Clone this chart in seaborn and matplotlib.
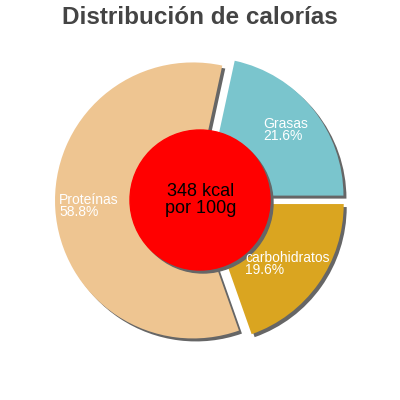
import matplotlib
matplotlib.use("Agg")
import matplotlib.pyplot as plt
import matplotlib.patches as mpatches
import seaborn as sns

# datos del gráfico
nutrientes = ["Grasas", "Proteínas", "carbohidratos"]
porcentajes = [21.6, 58.8, 19.6]
colores = ["#7AC5CD", "#EEC591", "#DAA520"]
kcal_texto = "348 kcal\npor 100g"
titulo = "Distribución de calorías"

sns.set_style("white")
plt.rcParams["font.family"] = ["Liberation Sans", "DejaVu Sans"]

paleta = sns.color_palette(colores)

fig = plt.figure(figsize=(4, 4), dpi=100)
ax = fig.add_axes([0, 0, 1, 1])

centro = (200, 200)
radio = 138
separacion = [7, 7, 7]  # en unidades de datos (pixeles)
sombra_dx, sombra_dy = 3, -3

# sombra de la tarta
ax.pie(porcentajes, radius=radio, center=(centro[0] + sombra_dx, centro[1] + sombra_dy),
       startangle=0, counterclock=True, explode=separacion,
       colors=["#666666"] * len(porcentajes), frame=True,
       wedgeprops=dict(linewidth=0))
# tarta
ax.pie(porcentajes, radius=radio, center=centro,
       startangle=0, counterclock=True, explode=separacion,
       colors=paleta, frame=True,
       wedgeprops=dict(linewidth=0))

# circulo central con sombra
ax.add_patch(mpatches.Circle((centro[0] + sombra_dx, centro[1] + sombra_dy), 70,
                             color="#666666", zorder=3))
ax.add_patch(mpatches.Circle(centro, 70, color="#FF0000", zorder=4))
ax.text(centro[0] + 1, centro[1], kcal_texto, ha="center", va="center",
        fontsize=13, color="black", linespacing=0.95, zorder=5)

# etiquetas
pos_etiquetas = {"Grasas": (263, 270), "Proteínas": (59, 194), "carbohidratos": (245, 136)}
for nombre, pct in zip(nutrientes, porcentajes):
    x, y = pos_etiquetas[nombre]
    ax.text(x, y, f"{nombre}\n{pct}%", ha="left", va="center", fontsize=10,
            color="white", linespacing=0.9, zorder=5)

ax.text(200, 382, titulo, ha="center", va="center", fontsize=17.5,
        fontweight="bold", color="#444444")

ax.set_xlim(0, 400)
ax.set_ylim(0, 400)
ax.set_aspect("equal")
ax.axis("off")

fig.savefig("out.png", dpi=100)
